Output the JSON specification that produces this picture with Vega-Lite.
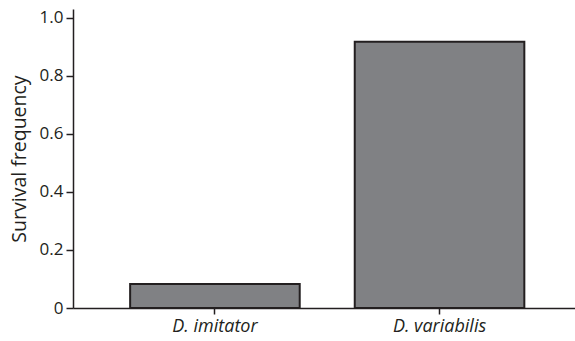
{
  "$schema": "https://vega.github.io/schema/vega-lite/v6.json",
  "autosize": {"type": "none"},
  "width": 502,
  "height": 299,
  "padding": {"left": 73, "top": 9, "right": 0, "bottom": 33},
  "background": "white",
  "data": {"values": [
    {"species": "D. imitator", "survival": 0.083},
    {"species": "D. variabilis", "survival": 0.917}
  ]},
  "mark": {"type": "bar", "fill": "#808184", "stroke": "#231f20", "strokeWidth": 2},
  "encoding": {
    "x": {
      "field": "species", "type": "nominal", "sort": null,
      "scale": {"paddingInner": 0.245, "paddingOuter": 0.24, "align": 0.53},
      "axis": {
        "title": null, "labelAngle": 0, "labelFont": "Open Sans", "labelFontStyle": "italic",
        "labelFontSize": 18, "labelColor": "#231f20", "labelPadding": 3,
        "domainColor": "#231f20", "domainWidth": 1.5, "tickColor": "#231f20", "tickWidth": 1.5, "tickSize": 6
      }
    },
    "y": {
      "field": "survival", "type": "quantitative",
      "scale": {"domain": [0, 1.03], "nice": false},
      "axis": {
        "title": "Survival frequency", "titleFont": "Open Sans", "titleFontSize": 19.5, "titleFontWeight": "normal",
        "titleColor": "#231f20", "titlePadding": 10,
        "values": [0, 0.2, 0.4, 0.6, 0.8, 1.0],
        "labelExpr": "datum.value == 0 ? '0' : format(datum.value, '.1f')",
        "labelFont": "Open Sans", "labelFontSize": 17, "labelColor": "#231f20", "labelPadding": 3,
        "grid": false, "domainColor": "#231f20", "domainWidth": 1.5,
        "tickColor": "#231f20", "tickWidth": 1.5, "tickSize": 7
      }
    }
  },
  "config": {"view": {"stroke": null}}
}
